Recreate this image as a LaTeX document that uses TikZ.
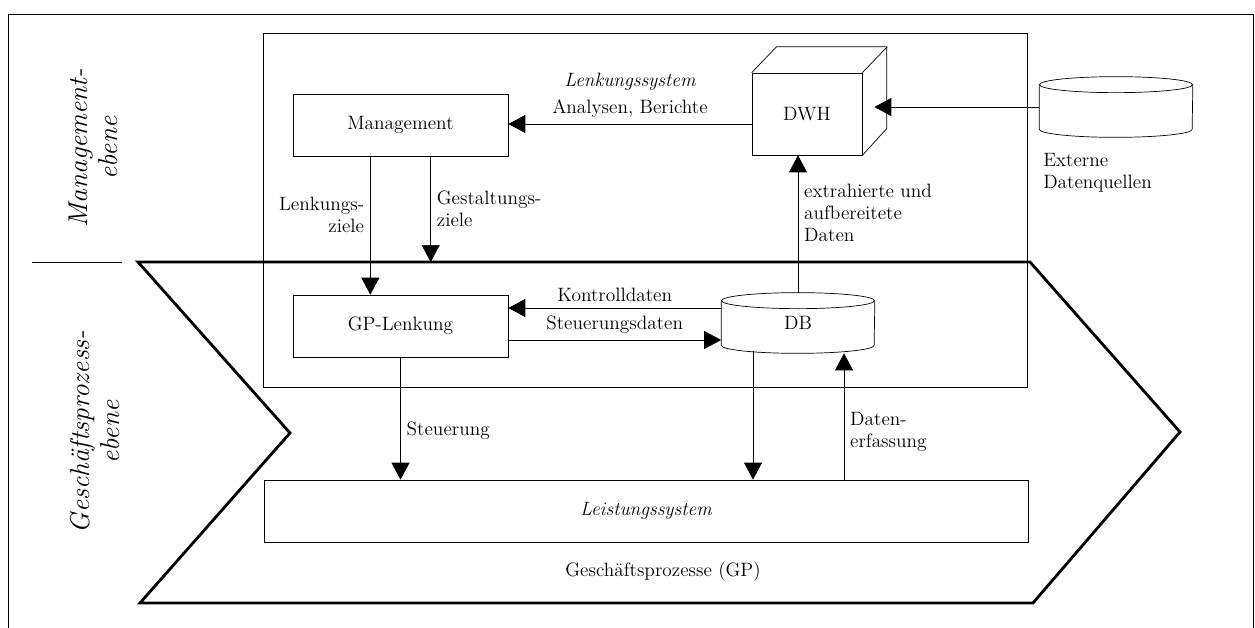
\documentclass[tikz,border=0pt]{standalone}
\usetikzlibrary{arrows.meta,calc,shapes.geometric}

\tikzset{
  box/.style={draw,thin,minimum width=4.3cm,minimum height=1.24cm},
  dbspace/.style={minimum width=3.06cm,minimum height=1.2cm},
  flow/.style={thin,-{Triangle[width=0.36cm,length=0.34cm]}},
  chev/.style={line width=1.6pt,line join=miter},
  level/.style={rotate=90,align=center,font=\fontsize{15.5}{17}\selectfont\itshape}
}
% outline of a database drum round a node #1
\newcommand\drumline[1]{%
  \draw[thin] ($(#1.north)+(0,8)$) ellipse[x radius=1.53cm,y radius=0.16cm];
  \draw[thin] ($(#1.north west)+(0,8)$) -- ($(#1.south west)+(0,-8)$)
    arc[start angle=180,end angle=360,x radius=1.53cm,y radius=0.16cm]
    -- ($(#1.north east)+(0,8)$);
}

\begin{document}
\begin{tikzpicture}[x=0.02cm,y=-0.02cm,font=\fontsize{11}{12.5}\selectfont]
  \useasboundingbox (0,0) rectangle (1255,628);

  % frame and levels
  \draw[thin] (8,628) -- (8,14) -- (1253,14) -- (1253,628);
  \draw[thin] (32,262) -- (122,262);
  \node[level] (mlevel) at (93,148) {Management-\\ebene};
  \node[level] (gplevel) at (95,432) {Geschäftsprozess-\\ebene};

  % Lenkungssystem
  \draw[thin] (263,33) rectangle (1027,387);
  \node[font=\fontsize{11}{12.5}\selectfont\itshape] (lstitle) at (630,82) {Lenkungssystem};
  \node[box] (mgmt) at (400.5,125) {Management};
  \node[box] (gpl) at (400.5,326) {GP-Lenkung};
  \node[draw,thin,minimum width=2.2cm,minimum height=1.64cm] (dwh) at (807,114) {DWH};
  \draw[thin] (dwh.north west) -- ++(25,-26) -- ++(110,0) -- ++(0,82) -- (dwh.south east);
  \draw[thin] (dwh.north east) -- ++(25,-26);
  \node[dbspace] (db) at (798,323) {\raisebox{-1.2ex}{DB}};
  \drumline{db}
  \node[dbspace] (ext) at (1116,107) {};
  \drumline{ext}
  \node[anchor=north west,align=left,inner sep=1pt] (extlbl) at ($(ext.south west)+(2,14)$) {Externe\\Datenquellen};

  % chevron of the business processes
  \draw[chev] (138,262) -- (1030,262) -- (1180,432) -- (1033,603) -- (140,603) -- (290,433) -- cycle;
  \coordinate (gptop) at (138,262);
  \node[draw,thin,minimum width=15.28cm,minimum height=1.24cm,font=\fontsize{11}{12.5}\selectfont\itshape] (lsys) at (646,511) {Leistungssystem};
  \node (gplabel) at (663,572) {Geschäftsprozesse (GP)};

  % connectors
  \coordinate (dwhside) at ($(dwh.east)+(12,-6)$);
  \draw[flow] (ext.west) -- (ext.west -| dwhside);
  \coordinate (ab) at (dwh.west |- 0,124);
  \draw[flow] (ab) -- (ab -| mgmt.east)
    node[midway,above] {Analysen, Berichte};
  \coordinate (lz) at ($(mgmt.south west)!0.36!(mgmt.south east)$);
  \coordinate (gz) at ($(mgmt.south west)!0.64!(mgmt.south east)$);
  \draw[flow] (lz) -- (lz |- gpl.north)
    node[pos=0.42,left,align=right] {Lenkungs-\\ziele};
  \draw[flow] (gz) -- (gz |- gptop)
    node[midway,right,align=left] {Gestaltungs-\\ziele};
  \draw[flow] (db.north) -- (db.north |- dwh.south)
    node[pos=0.58,right,align=left] {extrahierte und\\aufbereitete\\Daten};
  \coordinate (kd) at ($(db.west)+(0,-15)$);
  \draw[flow] (kd) -- (kd -| gpl.east)
    node[midway,above] {Kontrolldaten};
  \coordinate (sd) at ($(gpl.east)+(0,14)$);
  \draw[flow] (sd) -- (sd -| db.west)
    node[midway,above] {Steuerungsdaten};
  \draw[flow] (gpl.south) -- (gpl.south |- lsys.north)
    node[pos=0.6,right] {Steuerung};
  \coordinate (dbout) at ($(db.south)+(-45,-2)$);
  \draw[flow] (dbout) -- (dbout |- lsys.north);
  \coordinate (dbin) at ($(db.south)+(46,0)$);
  \draw[flow] (dbin |- lsys.north) -- (dbin)
    node[pos=0.38,right,align=left] {Daten-\\erfassung};
\end{tikzpicture}
\end{document}
